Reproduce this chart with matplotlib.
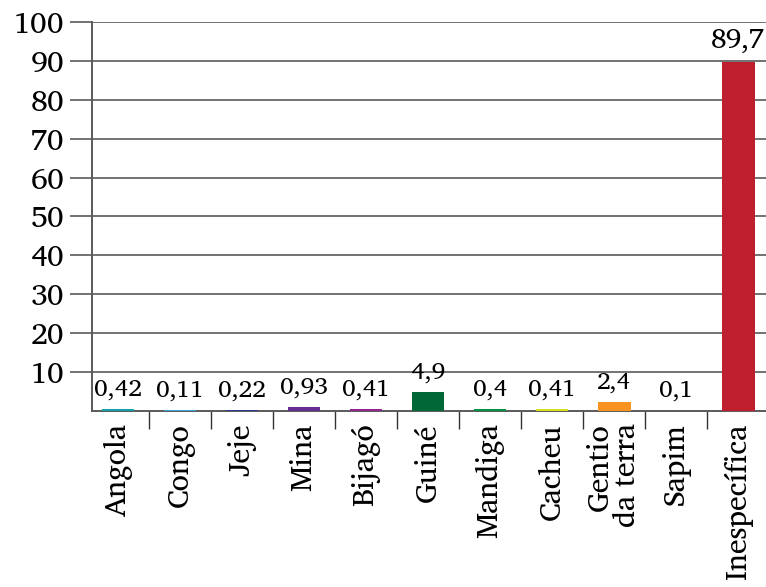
import matplotlib
matplotlib.use("Agg")
from matplotlib import pyplot as plt
import numpy as np

categorias = ["Angola", "Congo", "Jeje", "Mina", "Bijagó", "Guiné", "Mandiga",
              "Cacheu", "Gentio\nda terra", "Sapim", "Inespecífica"]
valores = [0.42, 0.11, 0.22, 0.93, 0.41, 4.9, 0.4, 0.41, 2.4, 0.1, 89.7]
rotulos = ["0,42", "0,11", "0,22", "0,93", "0,41", "4,9", "0,4", "0,41", "2,4", "0,1", "89,7"]
cores = ["#13a0a8", "#3aa6dc", "#2e3a91", "#662d91", "#93278f", "#006837",
         "#009245", "#d7df23", "#f7931e", "#f15a24", "#be1e2d"]
yticks = [10, 20, 30, 40, 50, 60, 70, 80, 90, 100]

# Charter-style serif, with DejaVu as a fallback
plt.rcParams['font.family'] = ['Charis SIL', 'DejaVu Serif']
grid_color = "#5a5a5a"

fig = plt.figure(figsize=(7.66, 5.87), dpi=100)
ax = fig.add_axes([0.120, 0.300, 0.880, 0.6625])

x = np.arange(len(categorias))
ax.bar(x, valores, width=0.53, color=cores, zorder=3)

for xi, v, r in zip(x, valores, rotulos):
    # the big bar gets a slightly larger label
    tam = 20 if v > 50 else 17.5
    ax.annotate(r, (xi, v), xytext=(0, 6), textcoords="offset points",
                ha="center", va="bottom", fontsize=tam, color="black")

ax.set_ylim(0, 100)
ax.set_xlim(-0.42, 10.45)

ax.set_yticks(yticks)
ax.set_yticklabels([str(t) for t in yticks], fontsize=21.5)
ax.yaxis.grid(True, color=grid_color, linewidth=1.2, zorder=0)
ax.tick_params(axis="y", direction="out", length=16, width=1.2,
               color=grid_color, pad=4)

ax.set_xticks(x)
ax.set_xticklabels(categorias, rotation=90, fontsize=21.5, va="top", ha="center",
                   multialignment="right", linespacing=0.9)
ax.tick_params(axis="x", which="major", length=0, pad=9)
ax.set_xticks(x[:-1] + 0.5, minor=True)
ax.tick_params(axis="x", which="minor", direction="out", length=13, width=1,
               color="#333333")

for side in ["top", "right"]:
    ax.spines[side].set_visible(False)
for side in ["left", "bottom"]:
    ax.spines[side].set_color(grid_color)
    ax.spines[side].set_linewidth(1.4)

fig.savefig("out.png", dpi=100)
